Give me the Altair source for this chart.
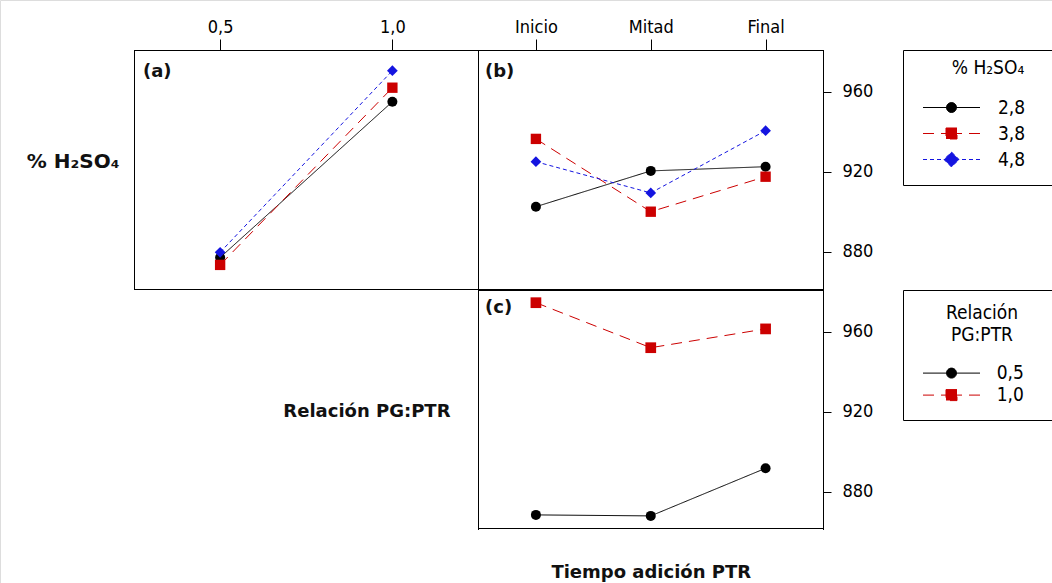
import altair as alt
import pandas as pd

# ---------------- data ----------------
pg_levels = ["0,5", "1,0"]                 # Relación PG:PTR
tiempo = ["Inicio", "Mitad", "Final"]      # Tiempo adición PTR
h2so4 = ["2,8", "3,8", "4,8"]              # % H2SO4

# panel (a): response vs PG:PTR, one line per % H2SO4
a_28 = [877.0, 954.9]
a_38 = [873.3, 961.9]
a_48 = [879.6, 970.4]

# panel (b): response vs addition time, one line per % H2SO4
b_28 = [902.4, 920.3, 922.4]
b_38 = [936.3, 899.9, 917.4]
b_48 = [924.9, 909.3, 940.4]

# panel (c): response vs addition time, one line per PG:PTR
c_05 = [868.3, 867.8, 891.6]
c_10 = [974.4, 951.9, 961.3]

y_ticks = [880, 920, 960]
y_domain = [861, 981]

panel_tags = ["(a)", "(b)", "(c)"]
row_title_1 = "% H\u2082SO\u2084"
row_title_2 = "Relación PG:PTR"
col_title = "Tiempo adición PTR"
legend_title_1 = "% H\u2082SO\u2084"
legend_title_2 = ["Relación", "PG:PTR"]


def frame(levels, series_names, series_vals):
    rows = []
    for s, vals in zip(series_names, series_vals):
        for i, (lev, v) in enumerate(zip(levels, vals)):
            rows.append({"x": lev, "serie": s, "v": v, "i": i})
    return pd.DataFrame(rows)


df_a = frame(pg_levels, h2so4, [a_28, a_38, a_48])
df_b = frame(tiempo, h2so4, [b_28, b_38, b_48])
df_c = frame(tiempo, pg_levels, [c_05, c_10])

# ---------------- styles ----------------
BLACK, RED, BLUE = "#000000", "#cc0000", "#1414e0"
col3 = [BLACK, RED, BLUE]
dash3 = [[1, 0], [11, 7], [4, 3]]
shp3 = ["circle", "square", "diamond"]
size3 = [100, 115, 230]
col2, dash2, shp2, size2 = col3[:2], dash3[:2], shp3[:2], size3[:2]

REG = "DejaVu Sans Condensed, DejaVu Sans"
BOLD = "DejaVu Sans"


def sx(levels, lo, hi):
    return alt.Scale(type="point", domain=levels, range=[lo, hi], padding=0.5)


def sy(lo, hi):
    return alt.Scale(type="linear", domain=y_domain, range=[lo, hi], zero=False, nice=False)


def dom_axis(orient, offset, **kw):
    kw.setdefault("title", None)
    return alt.Axis(orient=orient, offset=offset, labels=False, ticks=False, grid=False,
                    domain=True, domainColor="black", domainWidth=1, **kw)


def top_axis():
    return alt.Axis(orient="top", offset=-50, title=None, grid=False, tickSize=11,
                    tickColor="black", tickWidth=1, labelPadding=3, labelFont=REG,
                    labelFontSize=18, labelColor="black", labelAngle=0,
                    domainColor="black", domainWidth=1)


def right_axis():
    return alt.Axis(orient="right", offset=-229, values=y_ticks, title=None, grid=False,
                    tickSize=8, tickColor="black", tickWidth=1, labelPadding=11,
                    labelFont=REG, labelFontSize=18, labelColor="black",
                    domainColor="black", domainWidth=1, format="d")


def panel(df, levels, series, cols, dashes, shapes, sizes, xr, yr,
          x_main, y_main, x_frame, y_frame):
    base = alt.Chart(df)
    lines = base.mark_line(strokeWidth=1).encode(
        x=alt.X("x:N", scale=sx(levels, *xr), axis=x_main),
        y=alt.Y("v:Q", scale=sy(*yr), axis=y_main),
        color=alt.Color("serie:N", scale=alt.Scale(domain=series, range=cols), legend=None),
        strokeDash=alt.StrokeDash("serie:N", scale=alt.Scale(domain=series, range=dashes), legend=None),
        order=alt.Order("i:Q"),
    )
    pts = base.mark_point(filled=True, opacity=1).encode(
        x=alt.X("x:N", scale=sx(levels, *xr), axis=None),
        y=alt.Y("v:Q", scale=sy(*yr), axis=None),
        color=alt.Color("serie:N", scale=alt.Scale(domain=series, range=cols), legend=None),
        shape=alt.Shape("serie:N", scale=alt.Scale(domain=series, range=shapes), legend=None),
        size=alt.Size("serie:N", scale=alt.Scale(domain=series, range=sizes), legend=None),
    )
    fr = base.mark_point(opacity=0).encode(
        x=alt.X("x:N", scale=sx(levels, *xr), axis=x_frame),
        y=alt.Y("v:Q", scale=sy(*yr), axis=y_frame),
    )
    return [lines, pts, fr]


XA = (134, 478.5)
XB = (478.5, 823)
YT = (289.5, 49.5)
YB = (529.5, 289.5)

layers = []
layers += panel(
    df_a, pg_levels, h2so4, col3, dash3, shp3, size3, XA, YT,
    top_axis(),
    dom_axis("left", -134, title=row_title_1, titleAngle=0, titleAlign="right",
             titleBaseline="middle", titlePadding=15, titleY=161, titleFont=BOLD,
             titleFontSize=20, titleFontWeight="bold", titleColor="#111"),
    dom_axis("bottom", -294),
    None,
)
layers += panel(
    df_b, tiempo, h2so4, col3, dash3, shp3, size3, XB, YT,
    top_axis(), right_axis(),
    dom_axis("bottom", -294), dom_axis("left", -478),
)
layers += panel(
    df_c, tiempo, pg_levels, col2, dash2, shp2, size2, XB, YB,
    dom_axis("top", -290), right_axis(),
    dom_axis("bottom", -55, title=col_title, titlePadding=35, titleFont=BOLD,
             titleFontSize=18, titleFontWeight="bold", titleColor="#111"),
    dom_axis("left", -478, title=row_title_2, titleAngle=0, titleAlign="right",
             titleBaseline="middle", titlePadding=28, titleY=411, titleFont=BOLD,
             titleFontSize=18, titleFontWeight="bold", titleColor="#111"),
)

# panel tags
for tag, (tx, ty) in zip(panel_tags, [(143, 72), (485, 72), (485, 308)]):
    layers.append(
        alt.Chart(alt.Data(values=[{"t": tag}])).mark_text(
            font=BOLD, fontSize=18, fontWeight="bold", align="left", baseline="middle",
            color="#111").encode(x=alt.value(tx), y=alt.value(ty), text="t:N")
    )

# ---------------- legends ----------------
U = 6.0  # legend symbol unit (px)


def sym(marker, dashed, ext, ext_y):
    L = 28.5 / U
    g = 0.5
    line = (f"M{-L:.3f},0H{-g}M{L:.3f},0H{g}" if dashed else f"M{-L:.3f},0H{L:.3f}")
    if marker == "circle":
        r = 5.0 / U
        m = f"M{r:.3f},0A{r:.3f},{r:.3f},0,1,1,{-r:.3f},0A{r:.3f},{r:.3f},0,1,1,{r:.3f},0Z"
    elif marker == "square":
        h = 5.5 / U
        m = f"M{-h:.3f},{-h:.3f}H{h:.3f}V{h:.3f}H{-h:.3f}Z"
    else:
        h = 7.5 / U
        m = f"M0,{-h:.3f}L{h:.3f},0L0,{h:.3f}L{-h:.3f},0Z"
    return line + m + f"M{ext:.3f},{ext_y:.3f}"


def make_legend(series, cols, dashes, shapes, title, ly, pad, rowpad, tpad, so, lo, ext, last_y):
    n = len(shapes)
    paths = [sym(s, i > 0, ext, last_y if i == n - 1 else 0) for i, s in enumerate(shapes)]
    lg = alt.Legend(
        title=title, orient="none", legendX=903, legendY=ly, padding=pad,
        strokeColor="black", symbolSize=U * U * 4, symbolStrokeWidth=1,
        symbolOffset=so, labelOffset=lo, rowPadding=rowpad, titlePadding=tpad,
        titleAnchor="middle", titleAlign="center", titleFont=REG, titleFontSize=19,
        titleFontWeight="normal", titleColor="black", titleLineHeight=21.6,
        labelFont=REG, labelFontSize=19, labelColor="black",
        symbolFillColor="black", symbolStrokeColor="black", symbolOpacity=1,
    )
    data = alt.Data(values=[{"serie": s} for s in series])
    return alt.Chart(data).mark_point(opacity=1).encode(
        fill=alt.Fill("serie:N", scale=alt.Scale(domain=series, range=cols), legend=lg),
        stroke=alt.Stroke("serie:N", scale=alt.Scale(domain=series, range=cols), legend=lg),
        shape=alt.Shape("serie:N", scale=alt.Scale(domain=series, range=paths), legend=lg),
        strokeDash=alt.StrokeDash("serie:N", scale=alt.Scale(domain=series, range=dashes), legend=lg),
    ).transform_filter("false")


layers.append(make_legend(h2so4, col3, dash3, shp3, legend_title_1, 50, 9, 6, 20, 30, 37, 18.58, 2.3))
layers.append(make_legend(pg_levels, col2, dash2, shp2, legend_title_2, 290, 14, 2, 19, 25, 35.7, 15.58, 0))

chart = alt.layer(*layers).resolve_scale(
    x="independent", y="independent", color="independent", strokeDash="independent",
    shape="independent", size="independent", fill="independent", stroke="independent",
).resolve_axis(x="independent", y="independent").properties(
    width=1052, height=583, autosize=alt.AutoSizeParams(type="none"), padding=0,
).configure_view(stroke="transparent").configure(background="white")

chart.save("out.html", embed_options={"renderer": "svg", "actions": False})
